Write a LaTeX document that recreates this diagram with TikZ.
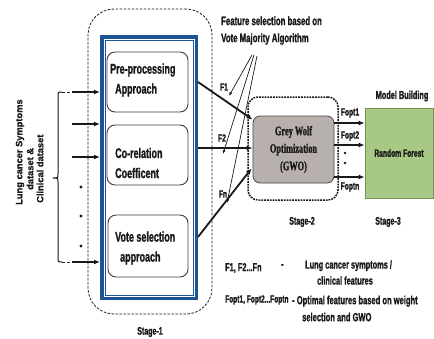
\documentclass[tikz,border=0pt]{standalone}
\usepackage{fontspec}
\setmainfont{Liberation Sans}[FakeStretch=0.64, BoldFeatures={FakeBold=1.2}]
\newfontfamily\widesans{Liberation Sans}[BoldFeatures={FakeBold=0.6}]
\newfontfamily\narrowserif{Liberation Serif}[FakeStretch=0.64, BoldFeatures={FakeBold=1.2}]
\usetikzlibrary{arrows.meta,calc}

\definecolor{frameblue}{RGB}{28,84,150}
\definecolor{gwogray}{RGB}{184,176,172}
\definecolor{rfgreen}{RGB}{168,200,134}
\definecolor{rfedge}{RGB}{118,146,86}
\definecolor{ink}{RGB}{25,25,25}

\begin{document}
\begin{tikzpicture}[x=1pt,y=-1pt,
  every node/.style={inner sep=0pt, text=ink},
  boxtxt/.style={font=\bfseries\fontsize{14}{20}\selectfont, align=left, anchor=west},
  notetxt/.style={font=\bfseries\fontsize{12.2}{17}\selectfont, align=left, anchor=west},
  smalltxt/.style={font=\bfseries\fontsize{10.5}{12}\selectfont},
  stagetxt/.style={font=\bfseries\fontsize{11}{13}\selectfont},
  legendtxt/.style={font=\bfseries\fontsize{11.5}{16}\selectfont, align=left, anchor=west},
  sidetxt/.style={rotate=90, anchor=west, font=\widesans\bfseries\fontsize{9.3}{10}\selectfont},
  stagebox/.style={draw=ink, rounded corners=#1, line width=0.8pt, dash pattern=on 2.5pt off 1.5pt},
  stagetwobox/.style={draw=ink, rounded corners=10pt, line width=1.5pt, dash pattern=on 1.8pt off 1pt},
  stepcard/.style={draw=ink!85, fill=white, rounded corners=8pt, line width=0.9pt},
  dashedlink/.style={draw=ink, line width=1pt, dash pattern=on 3pt off 2pt},
  bigarrow/.style={draw=ink, line width=1.8pt, -{Latex[length=6pt,width=5pt]}},
  finearrow/.style={draw=ink, line width=0.7pt, -{Latex[length=4pt,width=3pt]}}
]
\useasboundingbox (0,0) rectangle (434,338);

% stage containers
\node[stagebox=26pt, minimum width=124pt, minimum height=305pt] (stage1) at (150,161.5) {};
\node[stagetwobox, minimum width=90pt, minimum height=103pt] (stage2) at (293,148.5) {};

% blue frame holding the three stage-1 steps
\node[draw=frameblue, line width=5.5pt, minimum width=92.5pt, minimum height=259.5pt] (frame) at (149,167.5) {};
\draw[white, line width=0.8pt] ($(frame.north west)+(4,4)$) rectangle ($(frame.south east)+(-4,-4)$);

% stage-1 steps
\node[stepcard, minimum width=81pt, minimum height=60pt] (pre) at (147.5,82) {};
\node[boxtxt] (pretxt) at (110,80) {Pre-processing\\\hspace*{5pt}Approach};
\node[stepcard, minimum width=81pt, minimum height=60pt] (corr) at (147.5,155) {};
\node[boxtxt] (corrtxt) at (115,163) {Co-relation\\Coefficent};
\node[stepcard, minimum width=80pt, minimum height=62pt] (vote) at (148,246) {};
\node[boxtxt] (votetxt) at (115,248) {Vote selection\\\hspace*{5pt}approach};

% stage-2 optimiser
\node[fill=gwogray, draw=ink!80, line width=0.8pt, rounded corners=7pt,
      minimum width=81pt, minimum height=67pt, align=center,
      font=\narrowserif\bfseries\fontsize{13}{17.5}\selectfont] (gwo) at (293.5,149.5)
      {Grey Wolf\\Optimization\\(GWO)};

% stage-3 classifier
\node[fill=rfgreen, draw=rfedge, line width=0.8pt, minimum width=68pt, minimum height=90pt,
      font=\bfseries\fontsize{10.5}{12}\selectfont] (rf) at (399,153) {Random Forest};
\node[font=\bfseries\fontsize{11.5}{13}\selectfont] (model) at (402,96) {Model Building};

% dataset input
\node[sidetxt] (dsline1) at (20,205) {Lung cancer Symptoms};
\node[sidetxt] (dsline2) at (30,190) {dataset \&};
\node[sidetxt] (dsline3) at (40,203) {Clinical dataset};
\coordinate (in1) at (72,92);
\coordinate (in2) at (72,124);
\coordinate (in3) at (72,157);
\coordinate (in4) at (72,262);
\foreach \k in {1,...,4} \draw[bigarrow] (in\k) -- (in\k -| frame.west);
\coordinate (bracetop) at (62,92);
\coordinate (bracebot) at (62,262);
\draw[dashedlink] (bracetop) -- (in1);
\draw[dashedlink] (bracebot) -- (in4);
\draw[ink, line width=1pt] (bracetop) .. controls (58,92) .. (58,96) -- (58,174)
  .. controls (58,178) .. (53,178) .. controls (58,178) .. (58,182) -- (58,258)
  .. controls (58,262) .. (bracebot);
\foreach \y in {187,216,246} \fill[ink] (81,\y) circle (1.6pt);

% selected features into GWO
\coordinate (f1s) at (198,82);
\coordinate (f2s) at (198,148);
\coordinate (fns) at (198,237);
\draw[bigarrow] (f1s) -- ($(gwo.north west)+(0,4)$);
\draw[bigarrow] (f2s) -- (f2s -| gwo.west);
\draw[bigarrow] (fns) -- ($(gwo.south west)+(-1,-15)$);
\node[smalltxt] (f1) at (224,87) {F1};
\node[smalltxt] (f2) at (222,138) {F2};
\node[smalltxt] (fn) at (223,194) {Fn};

% vote majority note
\node[notetxt] (fsel) at (221,30.5) {Feature selection based on\\Vote Majority Algorithm};
\coordinate (a1) at (252,55);
\coordinate (a2) at (254,55);
\coordinate (an) at (257,56);
\coordinate (t1) at (229,96);
\coordinate (t2) at (223,154);
\coordinate (tn) at (227,203);
\draw[finearrow] (a1) -- (t1);
\draw[finearrow] (a2) -- (t2);
\draw[finearrow] (an) -- (tn);

% optimal features into the classifier
\coordinate (o1) at (334,123);
\coordinate (o2) at (334,145);
\coordinate (on) at (334,177);
\foreach \k in {o1,o2,on} \draw[bigarrow] (\k) -- (\k -| rf.west);
\node[smalltxt] (fo1) at (350,113) {Fopt1};
\node[smalltxt] (fo2) at (350,136) {Fopt2};
\node[smalltxt] (fon) at (350,187) {Foptn};
\foreach \y in {153,163} \fill[ink] (345,\y) circle (1.3pt);

% stage captions
\node[stagetxt] (s1) at (150,332) {Stage-1};
\node[stagetxt] (s2) at (302,222) {Stage-2};
\node[stagetxt] (s3) at (388,222) {Stage-3};

% legend
\node[legendtxt] (lg1) at (225,268) {F1, F2...Fn};
\node[legendtxt] (lgdash) at (281,266) {-};
\node[legendtxt] (lg1d) at (305,272.5) {Lung cancer symptoms /\\\hspace*{12pt}clinical features};
\node[legendtxt, font=\bfseries\fontsize{10.3}{12}\selectfont] (lg2) at (225,300) {Fopt1, Fopt2...Foptn};
\node[legendtxt, font=\bfseries\fontsize{11.8}{17}\selectfont] (lg2d) at (292,308.5) {- Optimal features based on weight\\\hspace*{10pt}selection and GWO};
\end{tikzpicture}
\end{document}
